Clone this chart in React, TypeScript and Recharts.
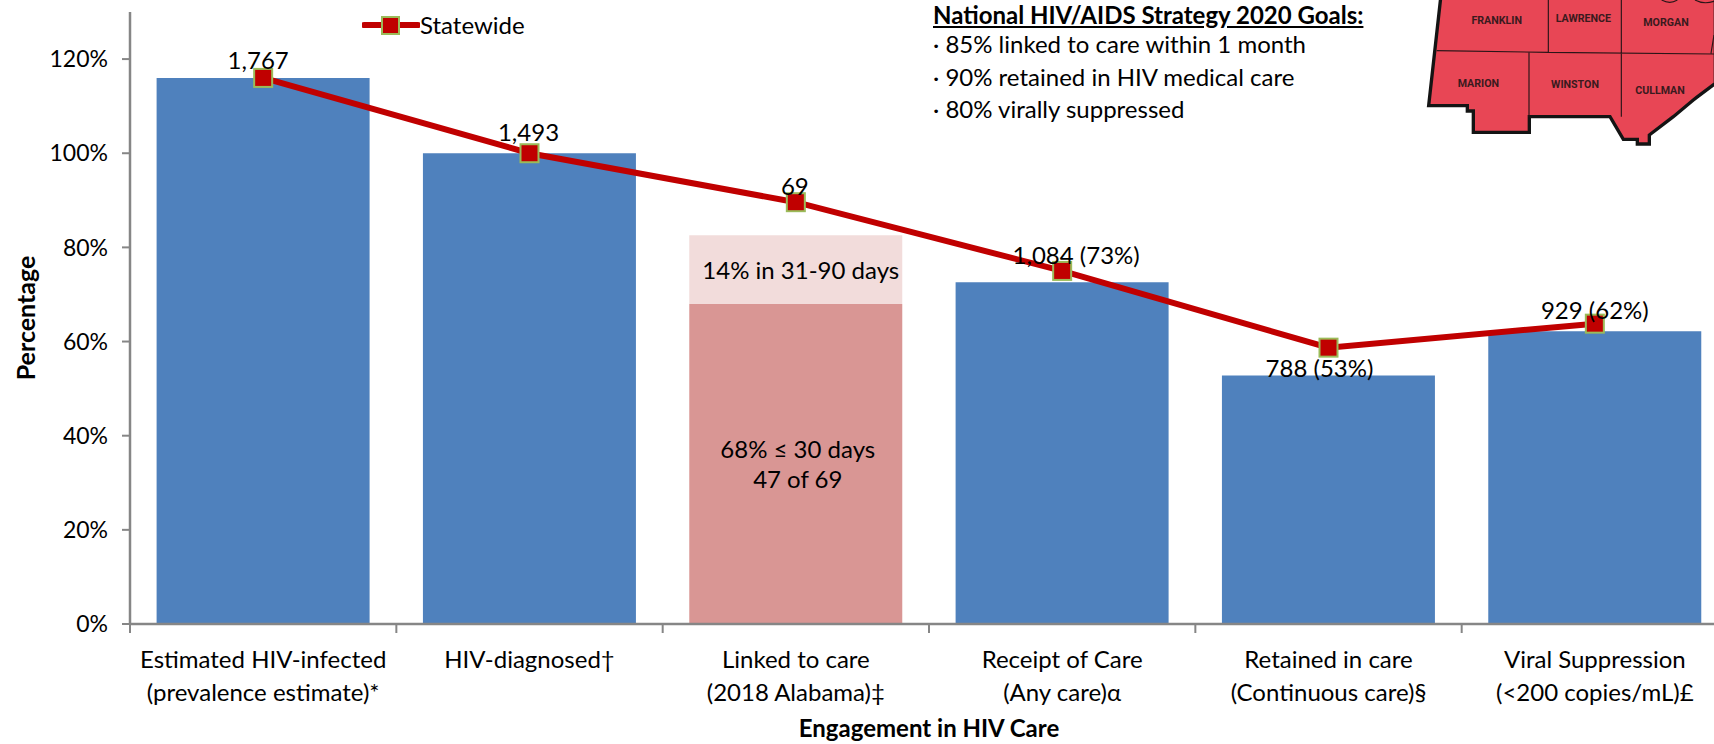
import {
  Bar,
  ComposedChart,
  LabelList,
  Legend,
  Line,
  XAxis,
  YAxis,
} from 'recharts';

const categories = [
  'Estimated HIV-infected|(prevalence estimate)*',
  'HIV-diagnosed†',
  'Linked to care|(2018 Alabama)‡',
  'Receipt of Care|(Any care)α',
  'Retained in care|(Continuous care)§',
  'Viral Suppression|(<200 copies/mL)£',
];
const engagementValues = [116, 100, null, 72.6, 52.8, 62.2];
const linkedWithin30 = [null, null, 68, null, null, null];
const linkedWithin90 = [null, null, 14.6, null, null, null];
const statewide = [116, 100, 89.6, 75, 58.7, 63.8];
const pointLabels = ['1,767', '1,493', '69', '1,084 (73%)', '788 (53%)', '929 (62%)'];
const yTicks = [0, 20, 40, 60, 80, 100, 120];
const goals = ['85% linked to care within 1 month', '90% retained in HIV medical care', '80% virally suppressed'];

const data = categories.map((category, i) => ({
  category,
  engagement: engagementValues[i],
  within30: linkedWithin30[i],
  within90: linkedWithin90[i],
  statewide: statewide[i],
}));

const FONT = 'Lato, Carlito, sans-serif';
const FONT_SIZE = 24;
const AXIS_COLOR = '#868686';
const BAND = 266.3;

// label nudges relative to each marker, the text sits around the line like in the original
const labelNudge = [
  [-5, -18],
  [-1, -22],
  [-1, -17],
  [14, -16],
  [-9, 20],
  [0, -14],
];

function CategoryTick({ x, y, payload }: any) {
  const lines = String(payload.value).split('|');
  return (
    <g>
      <line x1={x - BAND / 2} x2={x - BAND / 2} y1={y - 8} y2={y + 1} stroke={AXIS_COLOR} strokeWidth={2} />
      {lines.map((line, i) => (
        <text key={line} x={x} y={y + 36 + i * 33} textAnchor='middle' fontSize={FONT_SIZE} fontFamily={FONT} fill='#000'>
          {line}
        </text>
      ))}
    </g>
  );
}

function MarkerDot({ cx, cy, index }: any) {
  return <rect key={index} x={cx - 9} y={cy - 9} width={18} height={18} fill='#C00000' stroke='#9BBB59' strokeWidth={2} />;
}

function PointLabel({ x, y, index }: any) {
  const [dx, dy] = labelNudge[index];
  return (
    <text x={x + dx} y={y + dy} textAnchor='middle' dominantBaseline='central' fontSize={FONT_SIZE} fontFamily={FONT} fill='#000'>
      {pointLabels[index]}
    </text>
  );
}

function BarNote({ x, y, width, height, value, lines, dx = 0 }: any) {
  if (value === null || value === undefined) return null;
  const cy = y + height / 2;
  return (
    <text textAnchor='middle' fontSize={FONT_SIZE} fontFamily={FONT} fill='#000'>
      {lines.map((line: string, i: number) => (
        <tspan key={line} x={x + width / 2 + dx} y={cy + (i - (lines.length - 1) / 2) * 30} dominantBaseline='central'>
          {line}
        </tspan>
      ))}
    </text>
  );
}

function StatewideLegend() {
  return (
    <div style={{ display: 'flex', alignItems: 'center', fontFamily: FONT, fontSize: FONT_SIZE, color: '#000' }}>
      <svg width={58} height={24}>
        <line x1={2} x2={56} y1={12} y2={12} stroke='#C00000' strokeWidth={6} strokeLinecap='round' />
        <rect x={20} y={4} width={17} height={17} fill='#C00000' stroke='#9BBB59' strokeWidth={2} />
      </svg>
      <span>Statewide</span>
    </div>
  );
}

function CountyMap() {
  const labels = [
    ['FRANKLIN', 350, 62],
    ['LAWRENCE', 610, 54],
    ['MORGAN', 858, 68],
    ['MARION', 295, 249],
    ['WINSTON', 585, 252],
    ['CULLMAN', 840, 272],
  ] as const;
  return (
    <svg width={334} height={160} viewBox='0 0 1002 480' style={{ position: 'absolute', left: 1380, top: 0 }}>
      <path
        d='M182 -6 L146 317 L262 317 L262 333 L280 333 L280 397 L448 397 L448 350 L690 350 L730 418 L772 418 L772 432 L808 432 L808 405 L880 350 L940 300 L950 292 L1006 250 L1006 -6 Z'
        fill='#E84655'
        stroke='#141414'
        strokeWidth={10}
      />
      <path
        d='M170 152 L505 157 L1002 162 M505 0 L505 157 M724 0 L724 350 M447 157 L447 350 M1002 105 L993 160'
        fill='none'
        stroke='#2a1518'
        strokeWidth={3.5}
      />
      <path d='M845 0 Q870 14 892 0 M945 0 Q970 14 1002 4' fill='none' stroke='#2a1518' strokeWidth={3.5} />
      {labels.map(([name, x, y]) => (
        <text key={name} x={x} y={y} textAnchor='middle' dominantBaseline='central' fontSize={32} fontWeight={700} fontFamily='"Liberation Sans Narrow", Roboto, sans-serif' fill='#3a1a1e'>
          {name}
        </text>
      ))}
    </svg>
  );
}

export default function App() {
  return (
    <div style={{ position: 'fixed', left: 0, top: 0, width: 1714, height: 744, overflow: 'hidden', background: '#fff' }}>
      <ComposedChart
        width={1760}
        height={744}
        data={data}
        margin={{ top: 12, right: 32, bottom: 0, left: 30 }}
        barCategoryGap={26.6}
      >
        <XAxis
          dataKey='category'
          interval={0}
          axisLine={{ stroke: AXIS_COLOR, strokeWidth: 2.5 }}
          tickLine={false}
          tick={<CategoryTick />}
          height={120}
          label={{ value: 'Engagement in HIV Care', position: 'insideBottom', offset: 7, fontSize: FONT_SIZE, fontWeight: 700, fontFamily: FONT, fill: '#000' }}
        />
        <YAxis
          width={100}
          domain={[0, 130]}
          ticks={yTicks}
          tickFormatter={v => `${v}%`}
          axisLine={{ stroke: AXIS_COLOR, strokeWidth: 2.5 }}
          tickLine={{ stroke: AXIS_COLOR, strokeWidth: 2 }}
          tickSize={8}
          tickMargin={14}
          tick={{ fontSize: FONT_SIZE - 1, fontFamily: FONT, fill: '#000' }}
          label={{ value: 'Percentage', angle: -90, position: 'insideLeft', offset: -4, fontSize: FONT_SIZE + 1, fontWeight: 700, fontFamily: FONT, fill: '#000', style: { textAnchor: 'middle' } }}
        />
        {/* middle + center keeps the legend from reserving space around the plot */}
        <Legend
          verticalAlign='middle'
          align='center'
          content={<StatewideLegend />}
          wrapperStyle={{ left: 362, top: 10, width: 240 }}
        />
        <Bar dataKey='engagement' stackId='care' fill='#4F81BD' isAnimationActive={false} legendType='none' />
        <Bar dataKey='within30' stackId='care' fill='#D99694' isAnimationActive={false} legendType='none'>
          <LabelList dataKey='within30' content={<BarNote lines={['68% ≤ 30 days', '47 of 69']} dx={2} />} />
        </Bar>
        <Bar dataKey='within90' stackId='care' fill='#F2DCDB' isAnimationActive={false} legendType='none'>
          <LabelList dataKey='within90' content={<BarNote lines={['14% in 31-90 days']} dx={5} />} />
        </Bar>
        <Line
          dataKey='statewide'
          type='linear'
          stroke='#C00000'
          strokeWidth={6}
          dot={<MarkerDot />}
          activeDot={false}
          isAnimationActive={false}
        >
          <LabelList dataKey='statewide' content={<PointLabel />} />
        </Line>
      </ComposedChart>

      <div style={{ position: 'absolute', left: 933, top: 3, fontFamily: FONT, fontSize: FONT_SIZE, color: '#000', lineHeight: '32.5px' }}>
        <div style={{ fontWeight: 700, textDecoration: 'underline', lineHeight: '24px', marginBottom: 1 }}>National HIV/AIDS Strategy 2020 Goals:</div>
        {goals.map(goal => (
          <div key={goal}>· {goal}</div>
        ))}
      </div>
      <CountyMap />
    </div>
  );
}
